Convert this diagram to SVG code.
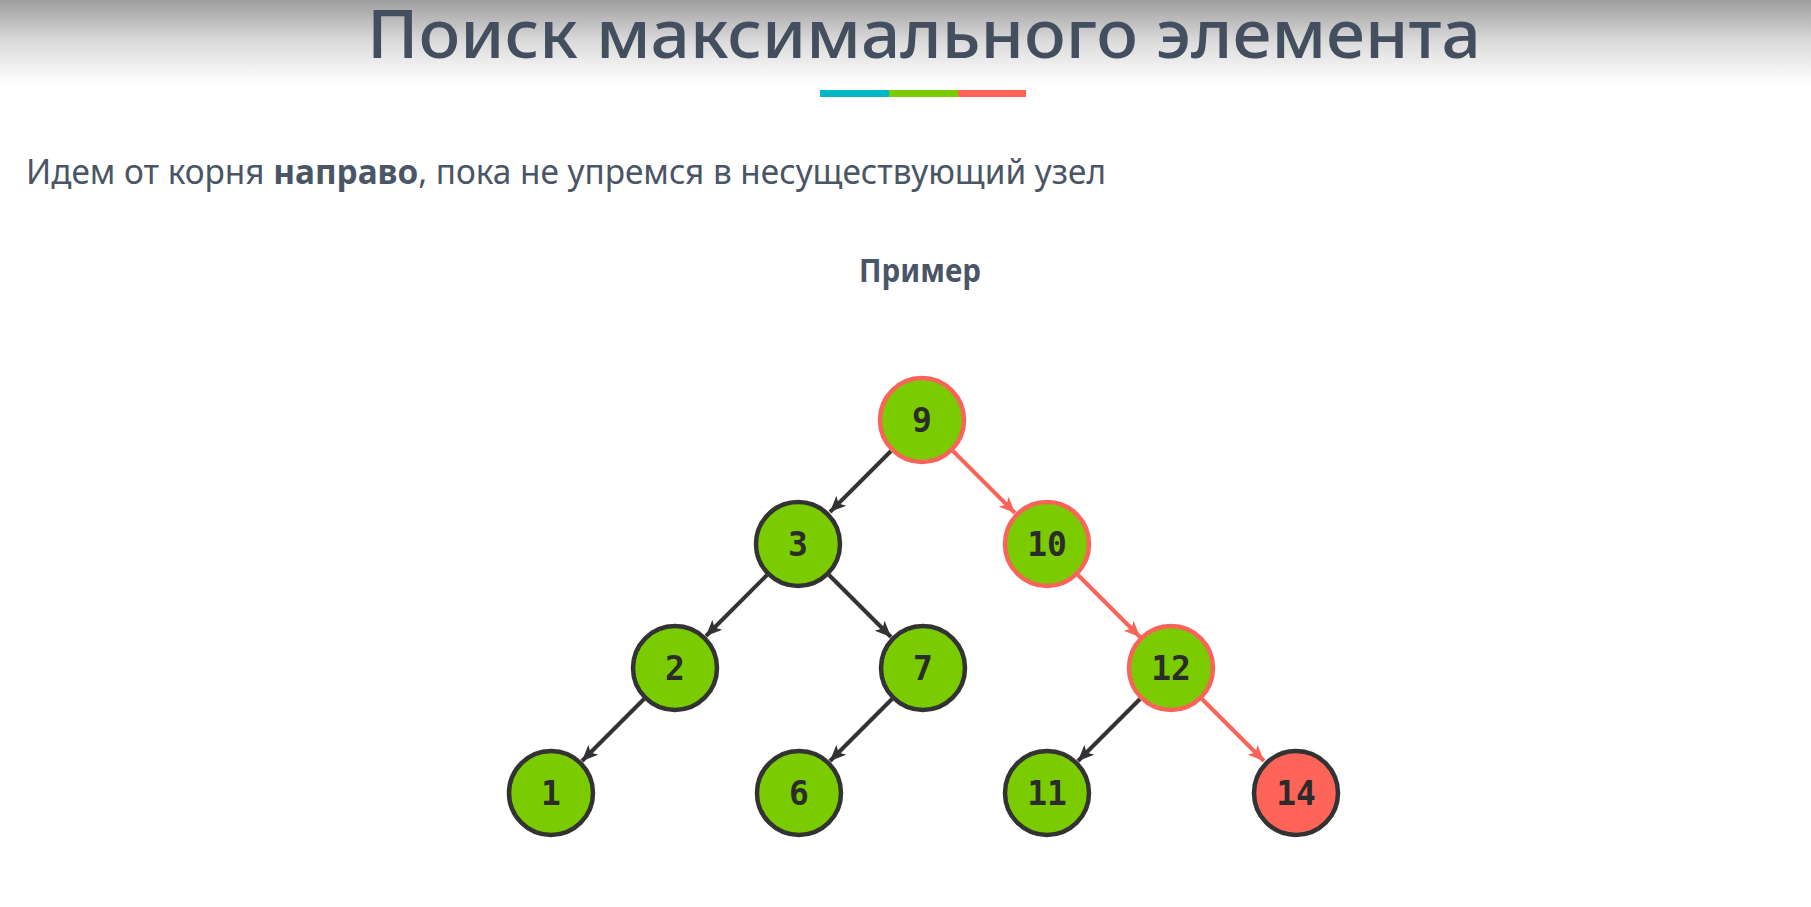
<svg xmlns="http://www.w3.org/2000/svg" width="1811" height="907" viewBox="0 0 1811 907">
<defs>
<linearGradient id="topfade" x1="0" y1="0" x2="0" y2="1">
<stop offset="0" stop-color="#9e9e9e"/>
<stop offset="0.5" stop-color="#dcdcdc"/>
<stop offset="1" stop-color="#ffffff"/>
</linearGradient>
<marker id="ah-dark" markerUnits="userSpaceOnUse" markerWidth="20" markerHeight="20" viewBox="0 0 20 20" refX="16" refY="10" orient="auto">
<path d="M0,3 L16,10 L0,17 L4,10 Z" fill="#333333"/>
</marker>
<marker id="ah-red" markerUnits="userSpaceOnUse" markerWidth="20" markerHeight="20" viewBox="0 0 20 20" refX="16" refY="10" orient="auto">
<path d="M0,3 L16,10 L0,17 L4,10 Z" fill="#f8645a"/>
</marker>
</defs>
<style>
.title{font-family:"Noto Sans","Open Sans",sans-serif;font-size:67px;font-weight:500;fill:#434f5e}
.sub{font-family:"Noto Sans","Open Sans",sans-serif;font-size:34px;fill:#4a5565}
.ex{font-family:"Noto Sans","Open Sans",sans-serif;font-size:33px;font-weight:bold;fill:#4a5565}
.node circle{fill:#7acc00;stroke:#333333;stroke-width:4.5}
.node.path circle{stroke:#f8645a}
.node.found circle{fill:#ff6459;stroke:#333333}
.node text{font-family:"DejaVu Sans Mono","Liberation Mono",monospace;font-size:33px;font-weight:bold;fill:#2b2b2b;text-anchor:middle}
.edge{stroke:#333333;stroke-width:4;fill:none;marker-end:url(#ah-dark)}
.edge.red{stroke:#f8645a;marker-end:url(#ah-red)}
</style>
<rect x="0" y="0" width="1811" height="907" fill="#ffffff"/>
<rect x="0" y="0" width="1811" height="85" fill="url(#topfade)"/>
<text class="title" x="367" y="58" textLength="1114" lengthAdjust="spacingAndGlyphs">Поиск максимального элемента</text>
<rect x="820" y="90" width="69" height="7" fill="#00b7c7"/>
<rect x="889" y="90" width="69" height="7" fill="#7acc00"/>
<rect x="958" y="90" width="68" height="7" fill="#ff6459"/>
<text class="sub" x="26" y="184" textLength="1080" lengthAdjust="spacingAndGlyphs">Идем от корня <tspan font-weight="bold">направо</tspan>, пока не упремся в несуществующий узел</text>
<text class="ex" x="859" y="282" textLength="122" lengthAdjust="spacingAndGlyphs">Пример</text>
<g id="connectors">
<line class="edge" x1="891" y1="451" x2="830" y2="512"/>
<line class="edge red" x1="953" y1="451" x2="1015" y2="513"/>
<line class="edge" x1="767" y1="575" x2="706" y2="636"/>
<line class="edge" x1="829" y1="575" x2="891" y2="637"/>
<line class="edge red" x1="1078" y1="575" x2="1140" y2="637"/>
<line class="edge" x1="644" y1="699" x2="582" y2="761"/>
<line class="edge" x1="892" y1="699" x2="830" y2="761"/>
<line class="edge" x1="1140" y1="699" x2="1078" y2="761"/>
<line class="edge red" x1="1202" y1="699" x2="1264" y2="761"/>
</g>
<g id="n9" class="node path"><circle cx="922" cy="420" r="42"/><text x="922" y="432">9</text></g>
<g id="n3" class="node"><circle cx="798" cy="544" r="42"/><text x="798" y="556">3</text></g>
<g id="n10" class="node path"><circle cx="1047" cy="544" r="42"/><text x="1047" y="556">10</text></g>
<g id="n2" class="node"><circle cx="675" cy="668" r="42"/><text x="675" y="680">2</text></g>
<g id="n7" class="node"><circle cx="923" cy="668" r="42"/><text x="923" y="680">7</text></g>
<g id="n12" class="node path"><circle cx="1171" cy="668" r="42"/><text x="1171" y="680">12</text></g>
<g id="n1" class="node"><circle cx="551" cy="793" r="42"/><text x="551" y="805">1</text></g>
<g id="n6" class="node"><circle cx="799" cy="793" r="42"/><text x="799" y="805">6</text></g>
<g id="n11" class="node"><circle cx="1047" cy="793" r="42"/><text x="1047" y="805">11</text></g>
<g id="n14" class="node found"><circle cx="1296" cy="793" r="42"/><text x="1296" y="805">14</text></g>
</svg>
